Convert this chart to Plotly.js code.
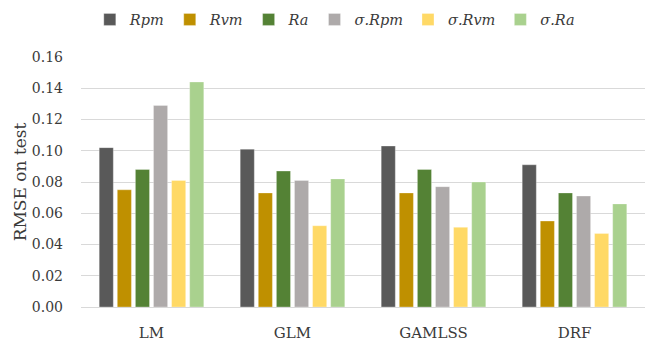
<!DOCTYPE html>
<html>
<head>
<meta charset="utf-8">
<script src="https://cdn.plot.ly/plotly-3.0.1.min.js"></script>
<style>
  html, body { margin: 0; padding: 0; background: #fff; }
  #chart { width: 649px; height: 343px; }
</style>
</head>
<body>
<div id="chart"></div>
<script>
// Models compared on the test set
const models = ["LM", "GLM", "GAMLSS", "DRF"];

// RMSE on test, one array per target
const rpm      = [0.102, 0.101, 0.103, 0.091];
const rvm      = [0.075, 0.073, 0.073, 0.055];
const ra       = [0.088, 0.087, 0.088, 0.073];
const sigmaRpm = [0.129, 0.081, 0.077, 0.071];
const sigmaRvm = [0.081, 0.052, 0.051, 0.047];
const sigmaRa  = [0.144, 0.082, 0.080, 0.066];

const seriesNames = ["<i>Rpm</i>", "<i>Rvm</i>", "<i>Ra</i>",
                     "<i>σ.Rpm</i>", "<i>σ.Rvm</i>", "<i>σ.Ra</i>"];
const seriesValues = [rpm, rvm, ra, sigmaRpm, sigmaRvm, sigmaRa];
const seriesColors = ["#595959", "#BF9000", "#548235", "#AEAAAA", "#FFD966", "#A9D18E"];

const yTicks = [0, 0.02, 0.04, 0.06, 0.08, 0.10, 0.12, 0.14, 0.16];

const traces = seriesValues.map((vals, i) => ({
  type: "bar",
  name: seriesNames[i],
  x: models,
  y: vals,
  marker: { color: seriesColors[i], line: { color: "rgba(255,255,255,0.6)", width: 0.5 } },
  hoverinfo: "x+y+name"
}));

const serif = "'DejaVu Serif'";
const textColor = "#3a3a3a";

const layout = {
  width: 649,
  height: 343,
  margin: { l: 81, r: 4, t: 54, b: 36 },
  paper_bgcolor: "#fff",
  plot_bgcolor: "#fff",
  font: { family: serif, color: textColor, size: 14 },
  barmode: "group",
  bargap: 0.23,
  bargroupgap: 0.22,
  showlegend: true,
  legend: {
    orientation: "h",
    x: 0.45, xanchor: "center",
    y: 1.15, yanchor: "middle",
    font: { family: serif, size: 14.5, color: textColor },
    itemwidth: 30,
    tracegroupgap: 0
  },
  xaxis: {
    type: "category",
    showgrid: false,
    showline: false,
    zeroline: false,
    ticks: "",
    ticklabelstandoff: 15,
    tickfont: { family: serif, size: 15, color: textColor }
  },
  yaxis: {
    range: [0, 0.16],
    tickvals: yTicks,
    ticktext: yTicks.map(v => v.toFixed(2)),
    showgrid: true,
    gridcolor: "#D9D9D9",
    gridwidth: 1,
    zeroline: true,
    zerolinecolor: "#D9D9D9",
    zerolinewidth: 1,
    showline: false,
    ticks: "",
    ticklabelstandoff: 17,
    tickfont: { family: serif, size: 14, color: textColor },
    title: { text: "RMSE on test", font: { family: serif, size: 17, color: textColor }, standoff: 0 }
  }
};

Plotly.newPlot("chart", traces, layout, { displayModeBar: false, staticPlot: true });
</script>
</body>
</html>
